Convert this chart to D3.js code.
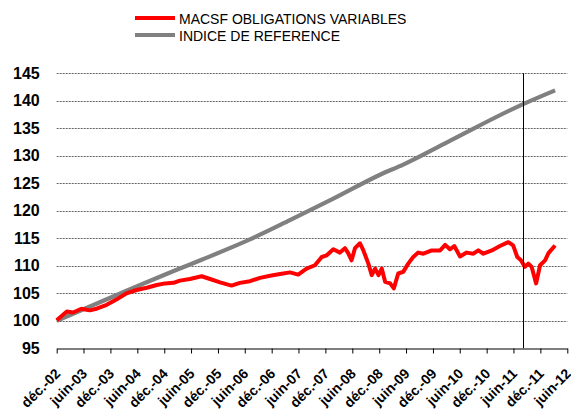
<!DOCTYPE html>
<html>
<head>
<meta charset="utf-8">
<script src="https://cdn.jsdelivr.net/npm/d3@7"></script>
<style>
  body { margin: 0; background: #fff; }
  svg { display: block; font-family: "Liberation Sans", Arial, sans-serif; }
</style>
</head>
<body>
<div id="chart"></div>
<script>
// séries
const fundDates = ["2002-12-01","2003-02-08","2003-03-22","2003-05-18","2003-06-22","2003-07-14","2003-08-29","2003-11-06",
  "2004-01-13","2004-03-20","2004-05-27","2004-08-04","2004-10-11","2004-12-06","2005-02-02","2005-03-17","2005-05-24",
  "2005-08-12","2005-10-08","2005-12-15","2006-03-03","2006-04-29","2006-07-06","2006-09-13","2006-11-20","2007-01-27",
  "2007-04-04","2007-05-30","2007-07-26","2007-09-21","2007-11-06","2007-12-10","2008-01-24","2008-03-09","2008-04-12",
  "2008-05-04","2008-05-27","2008-06-19","2008-07-23","2008-08-15","2008-09-18","2008-10-11","2008-11-03","2008-11-26",
  "2008-12-18","2009-01-10","2009-02-13","2009-03-10","2009-04-09","2009-05-13","2009-06-16","2009-07-20","2009-08-23",
  "2009-09-27","2009-11-23","2010-01-19","2010-02-22","2010-03-26","2010-04-25","2010-06-03","2010-07-18","2010-09-02",
  "2010-10-05","2010-11-09","2011-01-05","2011-03-01","2011-04-27","2011-05-30","2011-06-27","2011-07-22","2011-08-18",
  "2011-09-10","2011-10-03","2011-11-02","2011-11-29","2012-01-02","2012-01-25","2012-03-10"];
const fundValues = [100.1,101.7,101.5,102.2,102.0,101.9,102.2,102.9,
  103.9,105.0,105.6,106.0,106.5,106.8,106.9,107.3,107.6,
  108.1,107.6,107.0,106.4,106.9,107.2,107.8,108.2,108.5,
  108.8,108.4,109.5,110.1,111.6,111.9,113.0,112.4,113.2,
  112.3,111.0,113.2,114.1,112.8,110.4,108.3,109.5,108.3,
  109.5,107.1,106.8,105.9,108.6,108.9,110.4,111.6,112.4,
  112.2,112.8,112.8,113.8,113.0,113.6,111.7,112.4,112.2,
  112.8,112.2,112.8,113.6,114.3,113.7,111.6,111.0,109.8,
  110.4,109.8,106.8,110.1,111.0,112.3,113.7];

const refDates = ["2002-12-01","2004-01-13","2005-03-17","2005-08-12","2006-07-06","2007-04-04","2008-01-24",
  "2008-12-10","2009-05-13","2010-03-10","2011-08-06","2012-03-10"];
const refValues = [100.0,104.7,109.5,111.1,114.8,118.3,122.2,126.6,128.4,132.5,139.4,141.9];

const seriesNames = ["MACSF OBLIGATIONS VARIABLES", "INDICE DE REFERENCE"];
const seriesColors = ["#ff0000", "#808080"];

const tickLabels = ["déc.-02","juin-03","déc.-03","juin-04","déc.-04","juin-05","déc.-05","juin-06","déc.-06","juin-07",
  "déc.-07","juin-08","déc.-08","juin-09","déc.-09","juin-10","déc.-10","juin-11","déc.-11","juin-12"];
const yTicks = [95,100,105,110,115,120,125,130,135,140,145];
const markerDate = "2011-08-06";

const width = 571, height = 412;
const margin = { top: 73.3, right: 3.7, bottom: 63.7, left: 56.7 };
const parse = d3.timeParse("%Y-%m-%d");

const svg = d3.select("#chart").append("svg")
  .attr("width", width)
  .attr("height", height);

const x = d3.scaleTime()
  .domain([new Date(2002, 11, 1), new Date(2012, 5, 1)])
  .range([margin.left, width - margin.right]);
const y = d3.scaleLinear()
  .domain([95, 145])
  .range([height - margin.bottom, margin.top]);

const tickDates = tickLabels.map((_, i) => d3.timeMonth.offset(new Date(2002, 11, 1), 6 * i));

// grille horizontale
svg.append("g")
  .selectAll("line")
  .data(yTicks.filter(v => v > 95))
  .join("line")
  .attr("x1", margin.left)
  .attr("x2", width - margin.right)
  .attr("y1", d => Math.round(y(d)) + 0.5)
  .attr("y2", d => Math.round(y(d)) + 0.5)
  .attr("stroke", "#666")
  .attr("stroke-width", 1)
  .attr("stroke-dasharray", "2,1");

// axe Y (étiquettes seules)
const yAxis = svg.append("g")
  .attr("transform", `translate(${margin.left},0)`)
  .call(d3.axisLeft(y).tickValues(yTicks).tickSize(0).tickPadding(17));
yAxis.select(".domain").remove();
yAxis.selectAll("text")
  .attr("fill", "#000")
  .attr("font-size", "16px")
  .attr("font-weight", "bold")
  .attr("font-family", "Liberation Sans, Arial, sans-serif");

// axe X
const xAxis = svg.append("g")
  .attr("transform", `translate(0,${Math.round(y(95)) + 0.5})`)
  .call(d3.axisBottom(x).tickValues(tickDates).tickSize(5).tickSizeOuter(0)
    .tickFormat((d, i) => tickLabels[i]));
xAxis.select(".domain").attr("stroke", "#000").attr("stroke-width", 1.2);
xAxis.selectAll(".tick line").attr("stroke", "#000");
xAxis.selectAll("text")
  .attr("fill", "#000")
  .attr("font-size", "14px")
  .attr("font-weight", "bold")
  .attr("font-family", "Liberation Sans, Arial, sans-serif")
  .attr("text-anchor", "end")
  .attr("x", 0)
  .attr("y", 0)
  .attr("dy", 0)
  .attr("transform", "translate(4,26) rotate(-45)");

// séries
const line = d3.line()
  .x(d => x(d.date))
  .y(d => y(d.value));

const refData = refDates.map((d, i) => ({ date: parse(d), value: refValues[i] }));
const fundData = fundDates.map((d, i) => ({ date: parse(d), value: fundValues[i] }));

svg.append("path")
  .datum(refData)
  .attr("d", line.curve(d3.curveMonotoneX))
  .attr("fill", "none")
  .attr("stroke", seriesColors[1])
  .attr("stroke-width", 4.2);

svg.append("path")
  .datum(fundData)
  .attr("d", d3.line().x(d => x(d.date)).y(d => y(d.value)))
  .attr("fill", "none")
  .attr("stroke", seriesColors[0])
  .attr("stroke-width", 4)
  .attr("stroke-linejoin", "round");

// ligne verticale
const mx = Math.round(x(parse(markerDate))) + 0.5;
svg.append("line")
  .attr("x1", mx).attr("x2", mx)
  .attr("y1", y(145)).attr("y2", y(95))
  .attr("stroke", "#000")
  .attr("stroke-width", 1);

// légende
const legend = svg.append("g").attr("transform", "translate(135,0)");
seriesNames.forEach((name, i) => {
  const g = legend.append("g").attr("transform", `translate(0,${18 + i * 17})`);
  g.append("line")
    .attr("x1", 0).attr("x2", 40)
    .attr("stroke", seriesColors[i])
    .attr("stroke-width", 4);
  g.append("text")
    .attr("x", 44)
    .attr("y", 6)
    .attr("font-size", "14px")
    .attr("fill", "#000")
    .text(name);
});
</script>
</body>
</html>
